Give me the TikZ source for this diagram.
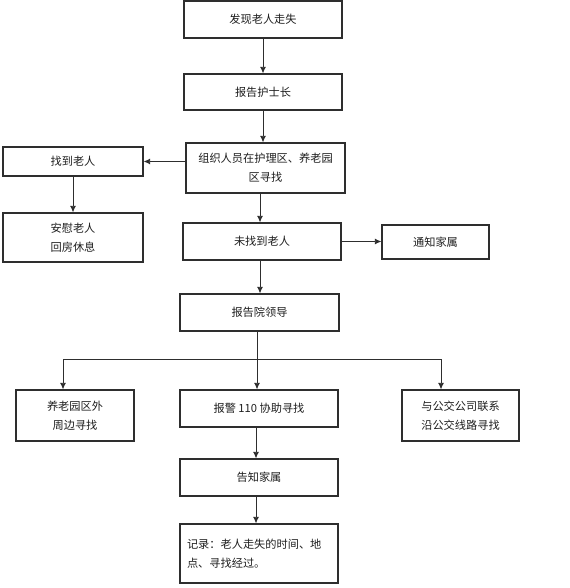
\documentclass[tikz,border=0pt]{standalone}
\usepackage{fontspec}
\newfontfamily\cjk{Noto Sans CJK SC}
\usetikzlibrary{arrows.meta}
\definecolor{inkline}{HTML}{2E2E2E}
\definecolor{inktext}{HTML}{1E1E1E}
\tikzset{
  flowbox/.style={draw=inkline,line width=0.8pt,inner sep=2pt,
    font=\cjk\fontsize{8.4}{14}\selectfont,text=inktext,align=center},
  flowarrow/.style={draw=inkline,line width=0.7pt,-{Latex[length=5pt,width=4.5pt]}}
}
\begin{document}
\begin{tikzpicture}[x=0.75pt,y=-0.75pt]
  \useasboundingbox (0,0) rectangle (570,588);
  % main column
  \node[flowbox,minimum width=118.5pt,minimum height=27.75pt] (faxian) at (263,19.5) {发现老人走失};
  \node[flowbox,minimum width=118.5pt,minimum height=27pt] (huzhang) at (263,92) {报告护士长};
  \node[flowbox,minimum width=119.25pt,minimum height=37.5pt] (xunzhao) at (265.5,168)
    {组织人员在护理区、养老园\\区寻找};
  \node[flowbox,minimum width=118.5pt,minimum height=27.75pt] (weizhao) at (262,241.5) {未找到老人};
  \node[flowbox,minimum width=119.25pt,minimum height=27.75pt] (lingdao) at (259.5,312.5) {报告院领导};
  % left side
  \node[flowbox,minimum width=105pt,minimum height=21.75pt] (zhaodao) at (73,161.5) {找到老人};
  \node[flowbox,minimum width=105pt,minimum height=36.75pt] (anwei) at (73,237.5) {安慰老人\\回房休息};
  % right side
  \node[flowbox,minimum width=80.25pt,minimum height=25.5pt] (tongzhi) at (435.5,242) {通知家属};
  % three branches
  \node[flowbox,minimum width=88.5pt,minimum height=38.25pt] (zhoubian) at (75,415.5) {养老园区外\\周边寻找};
  \node[flowbox,minimum width=118.5pt,minimum height=27.75pt] (baojing) at (259,408.5) {报警 110 协助寻找};
  \node[flowbox,minimum width=87.75pt,minimum height=38.25pt] (gongjiao) at (460.5,415.5) {与公交公司联系\\沿公交线路寻找};
  \node[flowbox,minimum width=118.5pt,minimum height=27.75pt] (gaozhi) at (259,477.5) {告知家属};
  \node[flowbox,minimum width=118.5pt,minimum height=44.25pt,text width=108pt,align=left] (jilu) at (259,553.5)
    {记录：老人走失的时间、地\\点、寻找经过。};
  % connectors
  \draw[flowarrow] (faxian.south) -- (huzhang.north);
  \draw[flowarrow] (huzhang.south -| faxian.south) -- (xunzhao.north -| faxian.south);
  \draw[flowarrow] (xunzhao.west |- zhaodao.east) -- (zhaodao.east);
  \draw[flowarrow] (zhaodao.south) -- (anwei.north);
  \draw[flowarrow] (xunzhao.south -| 260,0) -- (weizhao.north -| 260,0);
  \draw[flowarrow] (weizhao.east) -- (tongzhi.west |- weizhao.east);
  \draw[flowarrow] (weizhao.south -| 260,0) -- (lingdao.north -| 260,0);
  \coordinate (fenzhi) at (257,359);
  \coordinate (fenzuo) at (63,359);
  \coordinate (fenyou) at (441,359);
  \draw[draw=inkline,line width=0.7pt] (lingdao.south -| fenzhi) -- (fenzhi);
  \draw[draw=inkline,line width=0.7pt] (fenzuo) -- (fenyou);
  \foreach \src/\dst in {fenzuo/zhoubian, fenzhi/baojing, fenyou/gongjiao}
    \draw[flowarrow] (\src) -- (\src |- \dst.north);
  \draw[flowarrow] (baojing.south -| 256,0) -- (gaozhi.north -| 256,0);
  \draw[flowarrow] (gaozhi.south -| 256,0) -- (jilu.north -| 256,0);
\end{tikzpicture}
\end{document}
